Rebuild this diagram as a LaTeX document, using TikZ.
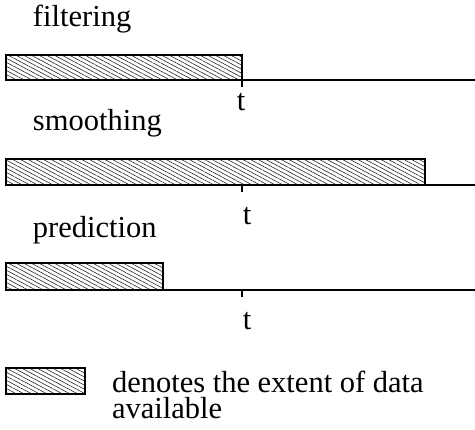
\documentclass[tikz,border=0pt]{standalone}
\usepackage{fontspec}
\setmainfont{Liberation Serif}
\usetikzlibrary{patterns.meta}
\tikzset{
  lbl/.style={inner sep=0pt, outer sep=0pt, anchor=base west, font=\fontsize{30.5}{26}\selectfont},
  tlbl/.style={inner sep=0pt, outer sep=0pt, anchor=base, font=\fontsize{30.5}{26}\selectfont},
  bar/.style={draw, line width=1.6pt, inner sep=0pt, outer sep=0pt, anchor=north west,
    pattern={Lines[angle=-28,distance=3.6pt,line width=0.6pt]}, pattern color=black!85},
  axis/.style={line width=1.6pt},
  tick/.style={line width=2pt},
}
\begin{document}
\begin{tikzpicture}[x=1pt,y=-1pt]
\useasboundingbox (0,0) rectangle (475,430);
\coordinate (tx) at (242,0);
\coordinate (rx) at (475,0);
% filtering
\node[lbl] (f) at (33,27) {filtering};
\node[bar, minimum width=236pt, minimum height=25pt] (fb) at (6,55) {};
\draw[axis] (fb.south east) -- (fb.south east -| rx);
\draw[tick] (fb.south -| tx) -- ++(0,7);
\node[tlbl] (ftl) at (241,111) {t};
% smoothing
\node[lbl] (s) at (33,131) {smoothing};
\node[bar, minimum width=419pt, minimum height=26pt] (sb) at (6,159) {};
\draw[axis] (sb.south east) -- (sb.south east -| rx);
\draw[tick] (sb.south -| tx) -- ++(0,7);
\node[tlbl] (stl) at (247,225) {t};
% prediction
\node[lbl] (p) at (33,238) {prediction};
\node[bar, minimum width=157pt, minimum height=27pt] (pb) at (6,263) {};
\draw[axis] (pb.south east) -- (pb.south east -| rx);
\draw[tick] (pb.south -| tx) -- ++(0,7);
\node[tlbl] (ptl) at (247,330) {t};
% legend
\node[bar, minimum width=79pt, minimum height=26pt] (lb) at (6,368) {};
\node[lbl, text depth=0pt] (l1) at (112,393) {denotes the extent of data};
\node[lbl, text height=20pt, text depth=0pt] (l2) at (112,419) {available};
\end{tikzpicture}
\end{document}
